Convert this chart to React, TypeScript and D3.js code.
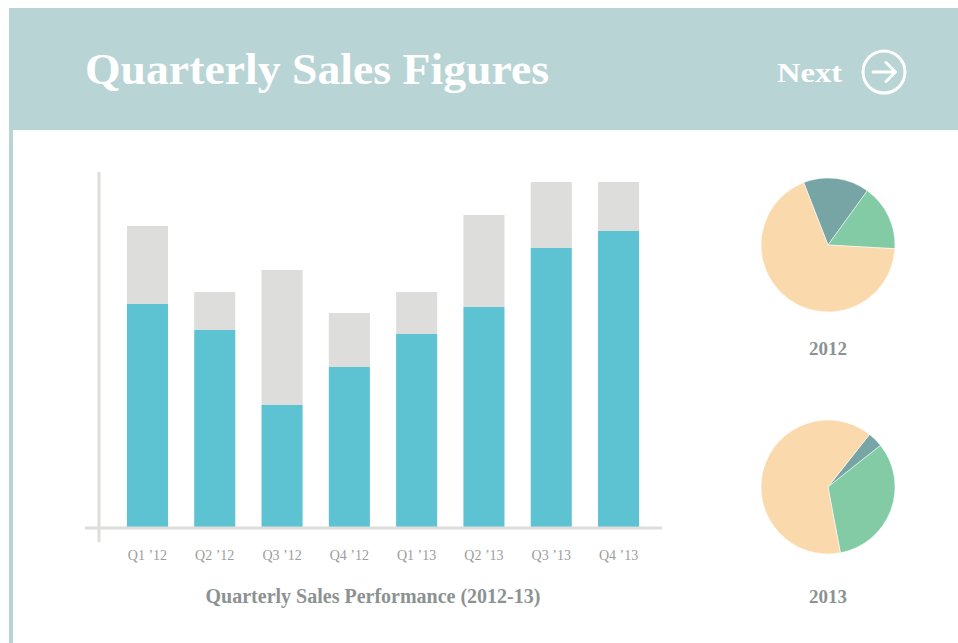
import React from "react";
import * as d3 from "d3";

const quarters = ["Q1 ’12", "Q2 ’12", "Q3 ’12", "Q4 ’12", "Q1 ’13", "Q2 ’13", "Q3 ’13", "Q4 ’13"];
const actualSales = [223, 197, 122, 160, 193, 220, 279, 296];
const remainingSales = [78, 38, 135, 54, 42, 92, 66, 49];

const pieYears = ["2012", "2013"];
const pieCategories = ["Region A", "Region B", "Region C"];
const pie2012 = [15.9, 15.9, 68.2];
const pie2013 = [3.7, 32.7, 63.6];
const pieStartDeg = [-21.3, 38.3];

const W = 958;
const H = 643;
const SERIF = "'Liberation Serif', 'DejaVu Serif', serif";

export default function App() {
  const rows = quarters.map((q, i) => ({ q, actual: actualSales[i], remaining: remainingSales[i] }));
  const stack = d3.stack<any>().keys(["actual", "remaining"]);
  const series = stack(rows);

  const x = d3.scaleBand<string>().domain(quarters).range([100, 666]).paddingInner(0.39).paddingOuter(0.4);
  const y = d3.scaleLinear().domain([0, 355]).range([527, 172]);
  const barColors = ["#5dc2d1", "#dddddc"];

  const pieColors = ["#77a5a5", "#82cba5", "#fadaad"];
  const pieData = [pie2012, pie2013];
  const pieCenters = [{ cx: 828, cy: 245, ly: 110 }, { cx: 828, cy: 487, ly: 116 }];
  const arc = d3.arc<any>().innerRadius(0).outerRadius(67);

  return (
    <div style={{ position: "absolute", left: 0, top: 0 }}>
      <svg width={W} height={H} style={{ display: "block" }}>
        <rect x={0} y={0} width={W} height={H} fill="#ffffff" />
        {/* header */}
        <rect x={9} y={8} width={W - 9} height={122} fill="#b8d4d5" />
        <rect x={9} y={130} width={4} height={H - 130} fill="#b8d4d5" />
        <text x={85} y={84} fill="#ffffff" fontFamily={SERIF} fontWeight="bold" fontSize={45} textLength={464} lengthAdjust="spacingAndGlyphs">
          Quarterly Sales Figures
        </text>
        <text x={777} y={82} fill="#ffffff" fontFamily={SERIF} fontWeight="bold" fontSize={28} textLength={65} lengthAdjust="spacingAndGlyphs">
          Next
        </text>
        <circle cx={884} cy={72} r={21} fill="none" stroke="#ffffff" strokeWidth={3} />
        <path d="M873,72 L895,72 M886,62.5 L895.5,72 L886,81.5" fill="none" stroke="#ffffff" strokeWidth={3} strokeLinecap="round" strokeLinejoin="round" />

        {/* bars */}
        {series.map((s, si) => (
          <g key={s.key} fill={barColors[si]}>
            {s.map((d: any, i: number) => (
              <rect key={i} x={x(quarters[i])} y={y(d[1])} width={x.bandwidth()} height={y(d[0]) - y(d[1])} />
            ))}
          </g>
        ))}

        {/* axes */}
        <line x1={99} x2={99} y1={172} y2={542} stroke="#dddddc" strokeWidth={3} />
        <line x1={85} x2={662} y1={y(0) + 1} y2={y(0) + 1} stroke="#dddddc" strokeWidth={3} />
        {quarters.map((q) => (
          <text key={q} x={(x(q) as number) + x.bandwidth() / 2} y={560} textAnchor="middle" fill="#9c9c9c" fontFamily={SERIF} fontSize={14}>
            {q}
          </text>
        ))}
        <text x={373} y={603} textAnchor="middle" fill="#8c9292" fontFamily={SERIF} fontWeight="bold" fontSize={20}>
          Quarterly Sales Performance (2012-13)
        </text>

        {/* pies */}
        {pieData.map((vals, pi) => {
          const start = (pieStartDeg[pi] * Math.PI) / 180;
          const arcs = d3.pie<number>().sort(null).startAngle(start).endAngle(start + 2 * Math.PI)(vals);
          const c = pieCenters[pi];
          return (
            <g key={pieYears[pi]} transform={`translate(${c.cx},${c.cy})`}>
              {arcs.map((a, ai) => (
                <path key={pieCategories[ai]} d={arc(a) as string} fill={pieColors[ai]} stroke="#ffffff" strokeWidth={0.5} />
              ))}
              <text x={0} y={c.ly} textAnchor="middle" fill="#8c9292" fontFamily={SERIF} fontWeight="bold" fontSize={19}>
                {pieYears[pi]}
              </text>
            </g>
          );
        })}
      </svg>
    </div>
  );
}
